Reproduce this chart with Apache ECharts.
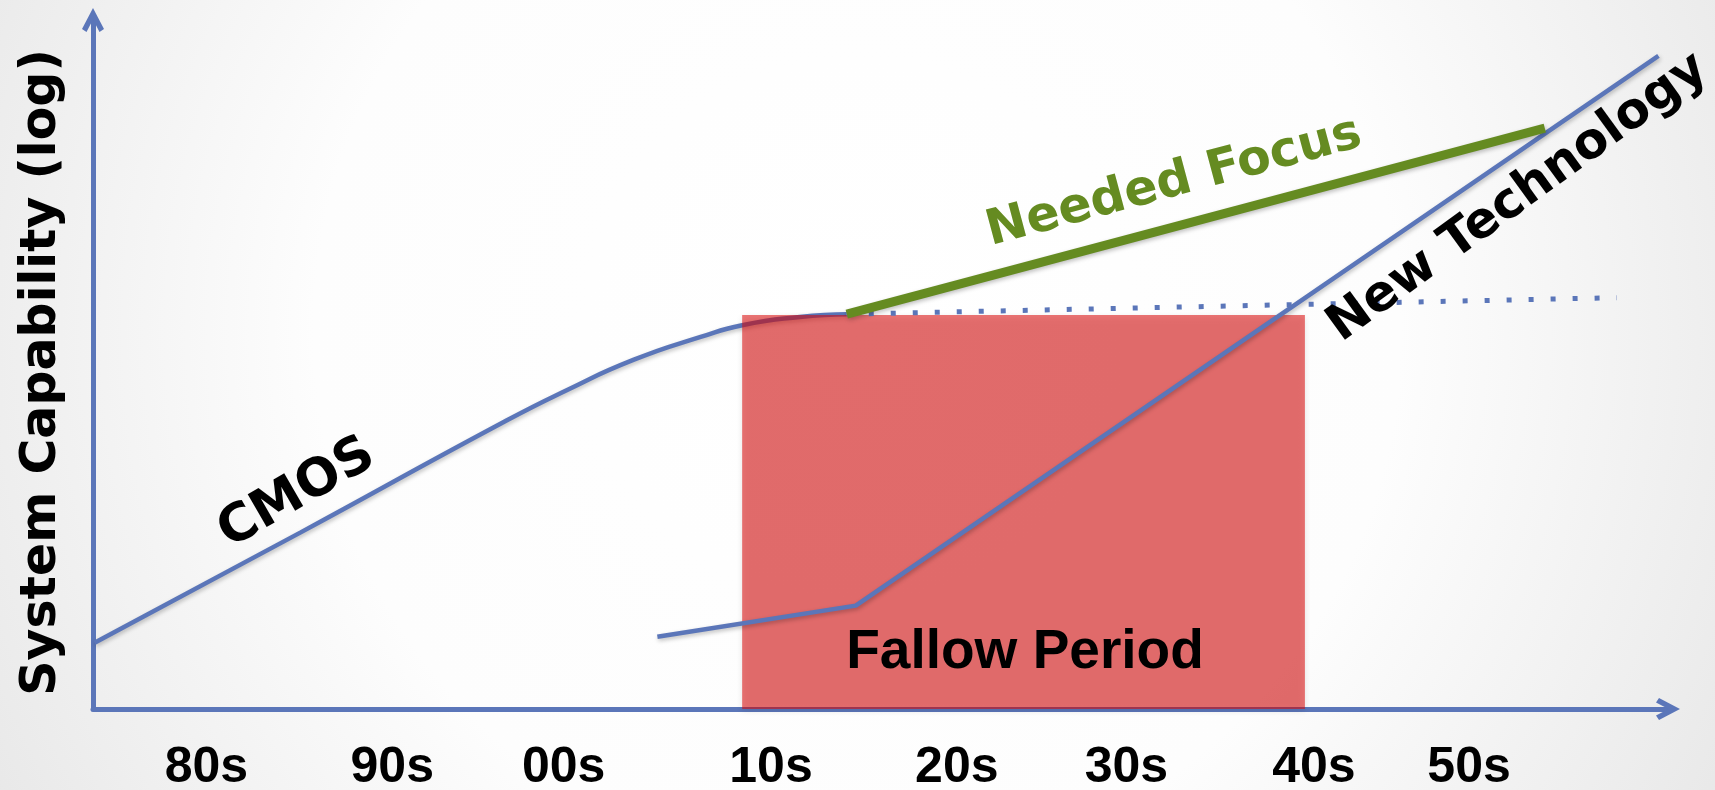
<!DOCTYPE html>
<html>
<head>
<meta charset="utf-8">
<script src="https://cdn.jsdelivr.net/npm/echarts@6/dist/echarts.min.js"></script>
<style>
  html, body { margin: 0; padding: 0; }
  #chart { width: 1715px; height: 790px; }
</style>
</head>
<body>
<div id="chart"></div>
<script>
// ---- data ----
const decadeLabels = ['80s', '90s', '00s', '10s', '20s', '30s', '40s', '50s'];
const decadePositions = [1980, 1990.3, 1999.8, 2011.3, 2021.6, 2031.0, 2041.4, 2050];

const cmosYears = [1973.8, 1985.2, 1996.3, 2000.0, 2003.7, 2007.4, 2009.7, 2012.9, 2015.5];
const cmosCapability = [9.6, 25.6, 41.4, 46.3, 50.7, 54.0, 55.7, 56.9, 57.3];

const newTechYears = [2005.0, 2016.0, 2060.5];
const newTechCapability = [10.5, 15.0, 94.8];

const neededFocusYears = [2015.5, 2054.2];
const neededFocusCapability = [57.3, 84.3];

const plateauYears = [2015.5, 2058.2];
const plateauCapability = [57.3, 59.7];

const fallowStart = 2009.7;
const fallowEnd = 2040.9;
const fallowTop = 57.2;

const xMin = 1973.71, xMax = 2061.03;
const yMin = 0, yMax = 100;

// ---- styles ----
const BLUE = '#5B76B9';
const GREEN = '#658B21';
const chevron = 'path://M11,0 L22,21 L17.5,24 L11,11.5 L4.5,24 L0,21 Z';
const lineShadow = { shadowColor: 'rgba(0,0,0,0.25)', shadowBlur: 4, shadowOffsetX: 1, shadowOffsetY: 2 };

function pairs(xs, ys) { return xs.map((x, i) => [x, ys[i]]); }

const chart = echarts.init(document.getElementById('chart'));
chart.setOption({
  animation: false,
  backgroundColor: {
    type: 'radial', x: 0.5, y: 0.42, r: 1.25,
    colorStops: [
      { offset: 0, color: '#ffffff' },
      { offset: 0.55, color: '#fdfdfd' },
      { offset: 1, color: '#e8e8e8' }
    ]
  },
  grid: { left: 93, right: 47, top: 20, bottom: 81, containLabel: false, outerBoundsMode: 'none' },
  xAxis: {
    type: 'value', min: xMin, max: xMax,
    splitLine: { show: false },
    axisTick: { show: false },
    axisLine: {
      show: true, onZero: false,
      symbol: ['none', chevron], symbolSize: [22, 24],
      lineStyle: { color: BLUE, width: 5 }
    },
    axisLabel: {
      customValues: decadePositions,
      formatter: function (v) {
        for (let i = 0; i < decadePositions.length; i++) {
          if (Math.abs(decadePositions[i] - v) < 1e-6) return decadeLabels[i];
        }
        return '';
      },
      margin: 34,
      lineHeight: 50,
      color: '#000',
      fontFamily: '"Liberation Sans", Arial, sans-serif',
      fontWeight: 'bold',
      fontSize: 50
    }
  },
  yAxis: {
    type: 'value', min: yMin, max: yMax,
    splitLine: { show: false },
    axisTick: { show: false },
    axisLabel: { show: false },
    axisLine: {
      show: true, onZero: false,
      symbol: ['none', chevron], symbolSize: [22, 24],
      lineStyle: { color: BLUE, width: 5 }
    },
    name: 'System Capability (log)',
    nameLocation: 'middle',
    nameRotate: 90,
    nameGap: 26,
    nameTextStyle: {
      color: '#000',
      fontFamily: '"DejaVu Sans", sans-serif',
      fontWeight: 'bold',
      fontSize: 49,
      padding: [0, 16, 0, 0]
    }
  },
  series: [
    {
      name: 'CMOS', type: 'line', z: 2,
      data: pairs(cmosYears, cmosCapability),
      smooth: 0.55,
      showSymbol: false, silent: true,
      lineStyle: Object.assign({ color: BLUE, width: 4.5 }, lineShadow)
    },
    {
      name: 'Fallow Period', type: 'custom', z: 3, silent: true,
      data: [[fallowStart, fallowEnd, fallowTop]],
      renderItem: function (params, api) {
        const p0 = api.coord([api.value(0), api.value(2)]);
        const p1 = api.coord([api.value(1), 0]);
        return {
          type: 'rect',
          shape: { x: p0[0], y: p0[1], width: p1[0] - p0[0], height: p1[1] - p0[1] },
          style: {
            fill: 'rgba(220,5,5,0.55)',
            shadowColor: 'rgba(0,0,0,0.18)', shadowBlur: 6, shadowOffsetY: 2
          }
        };
      }
    },
    {
      name: 'New Technology', type: 'line', z: 4,
      data: pairs(newTechYears, newTechCapability),
      showSymbol: false, silent: true,
      lineStyle: Object.assign({ color: BLUE, width: 4.5 }, lineShadow)
    },
    {
      name: 'Plateau', type: 'line', z: 4,
      data: pairs(plateauYears, plateauCapability),
      showSymbol: false, silent: true,
      lineStyle: { color: BLUE, width: 5, type: [5, 17], cap: 'butt' }
    },
    {
      name: 'Needed Focus', type: 'line', z: 5,
      data: pairs(neededFocusYears, neededFocusCapability),
      showSymbol: false, silent: true,
      lineStyle: Object.assign({ color: GREEN, width: 9, cap: 'butt' }, lineShadow)
    }
  ],
  graphic: [
    {
      type: 'text', z: 100, x: 297, y: 494, rotation: 30 * Math.PI / 180,
      style: { text: 'CMOS', fill: '#000', font: 'bold 52px "DejaVu Sans", sans-serif', align: 'center', verticalAlign: 'middle' }
    },
    {
      type: 'text', z: 100, x: 1174, y: 183, rotation: 15 * Math.PI / 180,
      style: { text: 'Needed Focus', fill: GREEN, font: 'bold 49px "DejaVu Sans", sans-serif', align: 'center', verticalAlign: 'middle' }
    },
    {
      type: 'text', z: 100, x: 1518, y: 198, rotation: 36 * Math.PI / 180,
      style: { text: 'New Technology', fill: '#000', font: 'bold 50px "DejaVu Sans", sans-serif', align: 'center', verticalAlign: 'middle' }
    },
    {
      type: 'text', z: 100, x: 1025, y: 653,
      style: { text: 'Fallow Period', fill: '#000', font: 'bold 55px "Liberation Sans", Arial, sans-serif', align: 'center', verticalAlign: 'middle' }
    }
  ]
});
</script>
</body>
</html>
